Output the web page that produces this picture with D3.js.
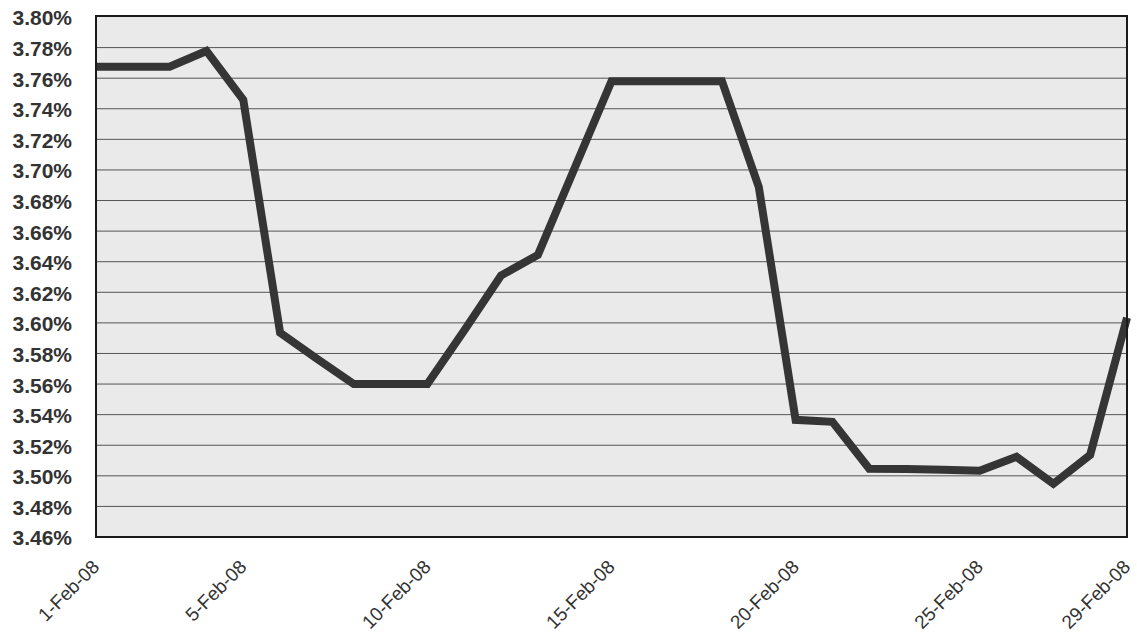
<!DOCTYPE html>
<html>
<head>
<meta charset="utf-8">
<script src="https://cdn.jsdelivr.net/npm/d3@7"></script>
<style>
  html, body { margin: 0; padding: 0; background: #ffffff; }
  svg { display: block; }
</style>
</head>
<body>
<svg id="chart" width="1137" height="633"></svg>
<script>
// ---- data ----
const days = d3.range(1, 30); // 1-Feb-08 .. 29-Feb-08
const rates = [
  3.7675, 3.7675, 3.7675, 3.7778, 3.7458, 3.5935, 3.5765, 3.5600, 3.5600, 3.5600,
  3.5950, 3.6310, 3.6444, 3.7013, 3.7580, 3.7580, 3.7580, 3.7580, 3.6889, 3.5366,
  3.5353, 3.5046, 3.5045, 3.5040, 3.5033, 3.5124, 3.4948, 3.5137, 3.6033
];
const yTicks = [3.46, 3.48, 3.50, 3.52, 3.54, 3.56, 3.58, 3.60, 3.62, 3.64,
                3.66, 3.68, 3.70, 3.72, 3.74, 3.76, 3.78, 3.80];
const xTickDays = [1, 5, 10, 15, 20, 25, 29];

// ---- layout ----
const svg = d3.select("#chart");
const plot = { left: 96, right: 1127, top: 17, bottom: 537 };

const x = d3.scaleTime()
  .domain([new Date(2008, 1, 1), new Date(2008, 1, 29)])
  .range([plot.left, plot.right]);
const y = d3.scaleLinear()
  .domain([3.46, 3.80])
  .range([plot.bottom, plot.top]);

const data = days.map((d, i) => ({ date: new Date(2008, 1, d), v: rates[i] }));

// plot background
svg.append("rect")
  .attr("x", plot.left).attr("y", plot.top)
  .attr("width", plot.right - plot.left).attr("height", plot.bottom - plot.top)
  .attr("fill", "#eaeaea");

// gridlines
svg.append("g")
  .selectAll("line")
  .data(yTicks.slice(1, -1))
  .join("line")
  .attr("x1", plot.left).attr("x2", plot.right)
  .attr("y1", d => y(d)).attr("y2", d => y(d))
  .attr("stroke", "#555").attr("stroke-width", 1);

// y axis labels
const yAxis = d3.axisLeft(y)
  .tickValues(yTicks)
  .tickFormat(d => d.toFixed(2) + "%")
  .tickSize(0).tickPadding(24);
const gy = svg.append("g").attr("transform", `translate(${plot.left},0)`).call(yAxis);
gy.select(".domain").remove();
gy.selectAll("text")
  .attr("font-family", "Liberation Sans, Arial, sans-serif")
  .attr("font-size", 21)
  .attr("font-weight", "bold")
  .attr("fill", "#333")
  .attr("dy", "0.38em");

// x axis labels
const xAxis = d3.axisBottom(x)
  .tickValues(xTickDays.map(d => new Date(2008, 1, d)))
  .tickFormat(d3.timeFormat("%-d-%b-%y"))
  .tickSize(0).tickPadding(0);
const gx = svg.append("g").attr("transform", `translate(0,${plot.bottom})`).call(xAxis);
gx.select(".domain").remove();
gx.selectAll("text")
  .attr("font-family", "Liberation Sans, Arial, sans-serif")
  .attr("font-size", 19)
  .attr("fill", "#333")
  .attr("text-anchor", "end")
  .attr("y", 0).attr("dy", 0)
  .attr("transform", "translate(4,31) rotate(-45)");

// line
const line = d3.line().x(d => x(d.date)).y(d => y(d.v));
svg.append("path")
  .datum(data)
  .attr("d", line)
  .attr("fill", "none")
  .attr("stroke", "#353535")
  .attr("stroke-width", 8)
  .attr("stroke-linejoin", "miter");

// plot border
svg.append("rect")
  .attr("x", plot.left).attr("y", plot.top - 1)
  .attr("width", plot.right - plot.left).attr("height", plot.bottom - plot.top + 1)
  .attr("fill", "none")
  .attr("stroke", "#1a1a1a").attr("stroke-width", 2);
</script>
</body>
</html>
